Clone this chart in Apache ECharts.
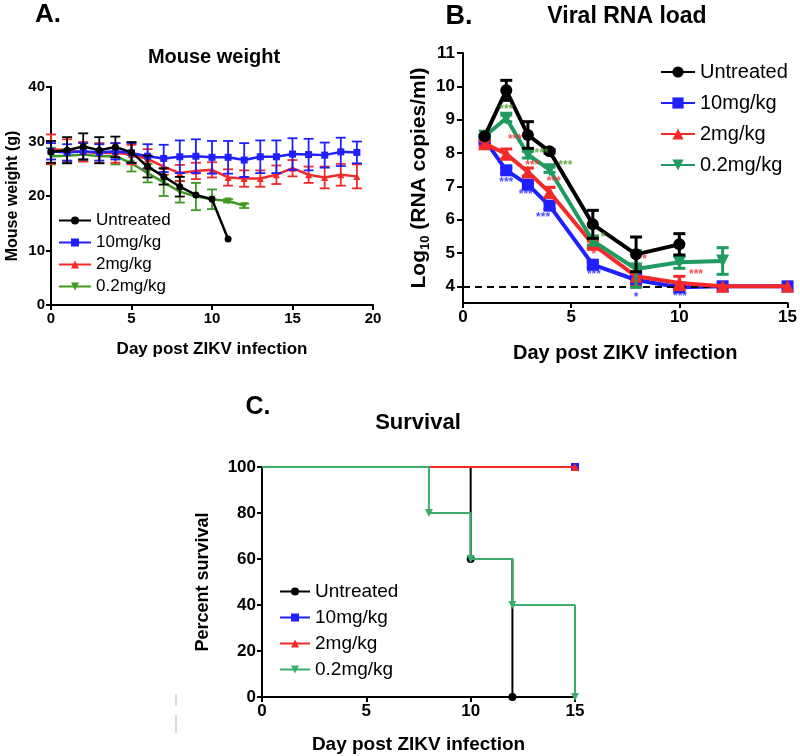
<!DOCTYPE html>
<html><head><meta charset="utf-8">
<script src="https://cdn.jsdelivr.net/npm/echarts@6/dist/echarts.min.js"></script>
<style>html,body{margin:0;padding:0;background:#fff}#c{width:800px;height:756px}</style>
</head><body><div id="c"></div>
<script>
// ---------- Labels ----------
const groups = ['Untreated', '10mg/kg', '2mg/kg', '0.2mg/kg'];
const xTitle = 'Day post ZIKV infection';

// ---------- Panel A: Mouse weight ----------
const aDaysUntreated = [0,1,2,3,4,5,6,7,8,9,10,11];
const aUntreated     = [28.1,28.4,29.1,28.4,29.0,28.0,25.4,23.6,21.7,20.2,19.4,12.1];
const aUntreatedSd   = [2.0,2.4,2.4,2.4,1.9,1.9,2.0,1.5,1.8,0,0,0];
const aDays          = [0,1,2,3,4,5,6,7,8,9,10,11,12,13,14,15,16,17,18,19];
const a10            = [28.2,28.0,28.2,28.0,28.2,27.9,27.3,26.9,27.2,27.3,27.1,27.1,26.6,27.2,27.2,27.7,27.6,27.5,28.1,28.0];
const a10Sd          = [1.5,1.5,1.5,1.5,1.5,1.8,2.2,2.5,3.0,3.1,3.0,3.0,3.1,3.0,3.0,2.9,2.9,2.3,2.6,2.0];
const a2             = [28.6,28.4,28.1,27.9,27.9,27.6,26.8,25.4,24.2,24.6,24.8,23.4,23.2,23.2,23.9,25.1,23.9,23.4,23.9,23.6];
const a2Sd           = [2.7,2.0,1.8,1.8,1.8,1.8,1.8,1.5,1.5,1.5,1.4,1.5,1.5,1.5,1.7,1.5,1.5,2.0,2.0,2.2];
const aDays02        = [0,1,2,3,4,5,6,7,8,9,10,11,12];
const a02            = [27.3,27.4,27.6,27.3,27.3,26.0,24.2,22.5,20.8,19.9,19.4,19.1,18.2];
const a02Sd          = [1.5,1.2,1.2,1.2,1.5,1.5,1.7,2.5,2.0,2.5,1.8,0.3,0.4];

// ---------- Panel B: Viral RNA load ----------
const bDaysUntreated = [1,2,3,4,6,8,10];
const bUntreated     = [8.5,9.88,8.54,8.05,5.86,4.96,5.26];
const bUntreatedSd   = [0,0.3,0.4,0.05,0.42,0.52,0.32];
const bDays          = [1,2,3,4,6,8,10,12,15];
const b10            = [8.4,7.48,7.05,6.42,4.65,4.19,3.97,4.0,4.0];
const b10Sd          = [0.1,0.08,0.08,0.1,0.08,0.2,0.05,0,0];
const b2             = [8.28,7.97,7.43,6.82,5.26,4.3,4.1,4.0,4.0];
const b2Sd           = [0.08,0.15,0.12,0.15,0.1,0.3,0.2,0,0];
const bDays02        = [1,2,3,4,6,8,10,12];
const b02            = [8.5,9.04,7.95,7.5,5.36,4.52,4.72,4.76];
const b02Sd          = [0.05,0.1,0.1,0.08,0.12,0.55,0.18,0.4];
const bYTicks        = [4,5,6,7,8,9,10,11];
const bLimit         = 4;
// significance marks [day, log10 value, text]
const starsBlue  = [[2.0,7.12,'***'],[2.9,6.75,'***'],[3.7,6.06,'***'],[6.05,4.34,'***'],[8.0,3.67,'*'],[10.03,3.69,'***']];
const starsRed   = [[2.4,8.39,'***'],[3.2,7.63,'***'],[4.2,7.15,'***'],[6.05,4.96,'*'],[8.39,4.8,'*'],[10.77,4.36,'***']];
const starsGreen = [[2.0,9.3,'***'],[3.63,7.98,'***'],[4.73,7.63,'***'],[6.47,5.46,'*']];

// ---------- Panel C: Survival ----------
const cDaysUntreated = [0,10,12];
const cUntreated     = [100,60,0];
const cDays10        = [0,15];
const c10            = [100,100];
const cDays2         = [0,15];
const c2             = [100,100];
const cDays02        = [0,8,10,12,15];
const c02            = [100,80,60,40,0];

// ---------- Styles ----------
const FONT = '"Liberation Sans", Arial, Helvetica, sans-serif';
const BLACK = '#000000', BLUE = '#1f1fff', RED = '#f42a2a';
const GREEN_A = '#3f9a22', GREEN_B = '#1f9b60', GREEN_C = '#3cae6c';

function pairs(xs, ys) { return xs.map((x, i) => [x, ys[i]]); }

function lineSeries(name, gi, xs, ys, color, symbol, size, lw, rot, z, opts) {
  return Object.assign({
    name: name, type: 'line', xAxisIndex: gi, yAxisIndex: gi,
    data: pairs(xs, ys), symbol: symbol, symbolSize: size, symbolRotate: rot || 0,
    showAllSymbol: true, clip: false, z: z,
    lineStyle: { color: color, width: lw }, itemStyle: { color: color },
    emphasis: { disabled: true }, animation: false
  }, opts || {});
}

function errSeries(gi, xs, ys, sds, color, lw, cap, z) {
  return {
    name: 'err', type: 'custom', xAxisIndex: gi, yAxisIndex: gi, z: z, animation: false,
    data: xs.map((x, i) => [x, ys[i], sds[i]]),
    renderItem: function (params, api) {
      const x = api.value(0), y = api.value(1), s = api.value(2);
      if (!s) return null;
      const t = api.coord([x, y + s]), b = api.coord([x, y - s]);
      const st = { stroke: color, lineWidth: lw };
      return { type: 'group', children: [
        { type: 'line', shape: { x1: t[0], y1: t[1], x2: b[0], y2: b[1] }, style: st },
        { type: 'line', shape: { x1: t[0] - cap, y1: t[1], x2: t[0] + cap, y2: t[1] }, style: st },
        { type: 'line', shape: { x1: b[0] - cap, y1: b[1], x2: b[0] + cap, y2: b[1] }, style: st }
      ]};
    }
  };
}

function starSeries(items, color) {
  return {
    name: 'stars', type: 'scatter', xAxisIndex: 1, yAxisIndex: 1, z: 20, animation: false,
    symbolSize: 1, itemStyle: { color: 'rgba(0,0,0,0)' },
    data: items.map(d => ({ value: [d[0], d[1]], name: d[2] })),
    label: { show: true, position: 'inside', formatter: '{b}', color: color, fontSize: 12, fontWeight: 'bold', fontFamily: FONT },
    emphasis: { disabled: true }
  };
}

function axisBase(fs, extra) {
  return Object.assign({
    type: 'value',
    axisLine: { show: true, onZero: false, lineStyle: { color: '#000', width: 2 } },
    axisTick: { show: true, length: 5, lineStyle: { color: '#000', width: 2 } },
    axisLabel: { color: '#000', fontWeight: 'bold', fontSize: fs, fontFamily: FONT, margin: 6 },
    splitLine: { show: false },
    nameLocation: 'middle'
  }, extra);
}

const nm = (g, p) => g + '|' + p;
const legendFmt = n => n.split('|')[0];

const series = [];
// Panel A (green bottom, black top)
series.push(errSeries(0, aDays02, a02, a02Sd, GREEN_A, 1.8, 5, 2));
series.push(lineSeries(nm(groups[3],'A'), 0, aDays02, a02, GREEN_A, 'triangle', 7, 2.5, 180, 3));
series.push(errSeries(0, aDays, a2, a2Sd, RED, 1.8, 5, 4));
series.push(lineSeries(nm(groups[2],'A'), 0, aDays, a2, RED, 'triangle', 7, 2.5, 0, 5));
series.push(errSeries(0, aDays, a10, a10Sd, BLUE, 1.8, 5, 6));
series.push(lineSeries(nm(groups[1],'A'), 0, aDays, a10, BLUE, 'rect', 7, 2.5, 0, 7));
series.push(errSeries(0, aDaysUntreated, aUntreated, aUntreatedSd, BLACK, 1.8, 5, 8));
series.push(lineSeries(nm(groups[0],'A'), 0, aDaysUntreated, aUntreated, BLACK, 'circle', 7, 2.5, 0, 9));

// Panel B
series.push(errSeries(1, bDays, b10, b10Sd, BLUE, 3, 6, 2));
series.push(lineSeries(nm(groups[1],'B'), 1, bDays, b10, BLUE, 'rect', 12, 4, 0, 3, {
  markLine: { silent: true, symbol: 'none', animation: false, label: { show: false },
    lineStyle: { color: '#000', width: 2, type: [7, 5] }, data: [{ yAxis: bLimit }] }
}));
series.push(errSeries(1, bDays, b2, b2Sd, RED, 3, 6, 4));
series.push(lineSeries(nm(groups[2],'B'), 1, bDays, b2, RED, 'triangle', 13, 4, 0, 5));
series.push(errSeries(1, bDays02, b02, b02Sd, GREEN_B, 3, 6, 6));
series.push(lineSeries(nm(groups[3],'B'), 1, bDays02, b02, GREEN_B, 'triangle', 13, 4, 180, 7));
series.push(errSeries(1, bDaysUntreated, bUntreated, bUntreatedSd, BLACK, 3, 6, 8));
series.push(lineSeries(nm(groups[0],'B'), 1, bDaysUntreated, bUntreated, BLACK, 'circle', 12, 4, 0, 9));
series.push(starSeries(starsBlue, BLUE));
series.push(starSeries(starsRed, RED));
series.push(starSeries(starsGreen, '#4a9a2a'));

// Panel C (step survival)
function survData(xs, ys) {
  return xs.map((x, i) => i === 0 ? { value: [x, ys[i]], symbol: 'none' } : { value: [x, ys[i]] });
}
function survSeries(g, xs, ys, color, symbol, rot, z) {
  const s = lineSeries(nm(g,'C'), 2, xs, ys, color, symbol, 8, 2, rot, z, { step: 'end' });
  s.data = survData(xs, ys);
  return s;
}
series.push(survSeries(groups[0], cDaysUntreated, cUntreated, BLACK, 'circle', 0, 3));
series.push(survSeries(groups[1], cDays10, c10, BLUE, 'rect', 0, 4));
series.push(survSeries(groups[2], cDays2, c2, RED, 'triangle', 0, 5));
series.push(survSeries(groups[3], cDays02, c02, GREEN_C, 'triangle', 180, 6));

function legend(panel, left, top, fs, gap, iw, ih) {
  return {
    orient: 'vertical', left: left, top: top, itemWidth: iw, itemHeight: ih, itemGap: gap,
    selectedMode: false, formatter: legendFmt, padding: 0,
    textStyle: { fontSize: fs, fontFamily: FONT, color: '#000' },
    data: groups.map(g => nm(g, panel))
  };
}

const txt = (t, x, y, font) => ({ type: 'text', x: x, y: y,
  style: { text: t, font: font, fill: '#000', textAlign: 'center', textVerticalAlign: 'middle' } });

const option = {
  backgroundColor: '#fff',
  animation: false,
  grid: [
    { left: 51, top: 87, width: 322, height: 218 },
    { left: 463, top: 53, width: 326, height: 250 },
    { left: 262, top: 467, width: 313, height: 230 }
  ],
  xAxis: [
    axisBase(15, { gridIndex: 0, min: 0, max: 20, interval: 5, name: xTitle, nameGap: 36,
      nameTextStyle: { fontSize: 17, fontWeight: 'bold', fontFamily: FONT, color: '#000' } }),
    axisBase(17, { gridIndex: 1, min: 0, max: 15, interval: 5, name: xTitle, nameGap: 40,
      nameTextStyle: { fontSize: 20, fontWeight: 'bold', fontFamily: FONT, color: '#000' } }),
    axisBase(17, { gridIndex: 2, min: 0, max: 15, interval: 5, name: xTitle, nameGap: 38,
      nameTextStyle: { fontSize: 19, fontWeight: 'bold', fontFamily: FONT, color: '#000' } })
  ],
  yAxis: [
    axisBase(15, { gridIndex: 0, min: 0, max: 40, interval: 10, name: 'Mouse weight (g)', nameGap: 30,
      nameTextStyle: { fontSize: 16, fontWeight: 'bold', fontFamily: FONT, color: '#000' } }),
    axisBase(17, { gridIndex: 1, min: 3.5, max: 11,
      axisLabel: { color: '#000', fontWeight: 'bold', fontSize: 17, fontFamily: FONT, margin: 8, customValues: bYTicks },
      axisTick: { show: true, length: 6, lineStyle: { color: '#000', width: 2 }, customValues: bYTicks },
      name: '{n|Log}{s|10}{n| (RNA copies/ml)}', nameGap: 30,
      nameTextStyle: { rich: {
        n: { fontSize: 21, fontWeight: 'bold', fontFamily: FONT, color: '#000', lineHeight: 25 },
        s: { fontSize: 13, fontWeight: 'bold', fontFamily: FONT, color: '#000', lineHeight: 25, verticalAlign: 'bottom', padding: [8, 0, 0, 0] }
      } } }),
    axisBase(17, { gridIndex: 2, min: 0, max: 100, interval: 20, name: 'Percent survival', nameGap: 50,
      nameTextStyle: { fontSize: 18, fontWeight: 'bold', fontFamily: FONT, color: '#000' } })
  ],
  legend: [
    legend('A', 58, 212, 17, 5, 32, 10),
    legend('B', 660, 62, 20, 11, 34, 14),
    legend('C', 279, 582, 19, 7, 30, 10)
  ],
  graphic: [
    txt('A.', 48, 15, 'bold 26px ' + FONT),
    txt('B.', 459, 17, 'bold 27px ' + FONT),
    txt('C.', 258, 407, 'bold 25px ' + FONT),
    txt('Mouse weight', 214, 57, 'bold 20px ' + FONT),
    txt('Viral RNA load', 627, 17, 'bold 23px ' + FONT),
    txt('Survival', 418, 423, 'bold 22px ' + FONT),
    { type: 'line', shape: { x1: 176, y1: 694, x2: 176, y2: 706 }, style: { stroke: '#d0d0d0', lineWidth: 1.5 } },
    { type: 'line', shape: { x1: 176, y1: 715, x2: 176, y2: 733 }, style: { stroke: '#d0d0d0', lineWidth: 1.5 } }
  ],
  series: series
};

const chart = echarts.init(document.getElementById('c'), null, { renderer: 'canvas' });
chart.setOption(option);
</script>
</body></html>
